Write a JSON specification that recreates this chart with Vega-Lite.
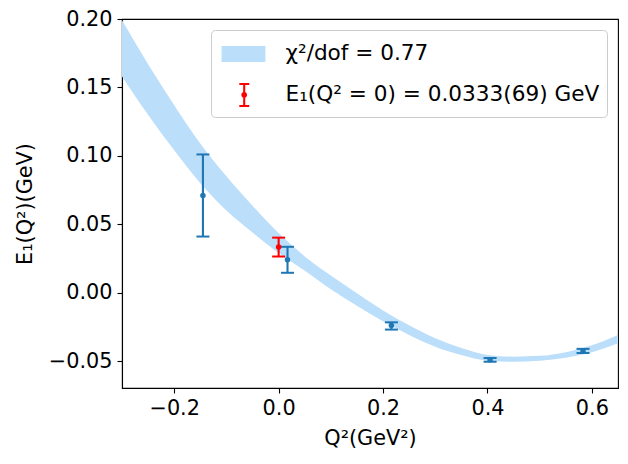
{
  "$schema": "https://vega.github.io/schema/vega-lite/v6.json",
  "width": 496,
  "height": 369,
  "autosize": "none",
  "padding": {"left": 122, "top": 19, "right": 10, "bottom": 76},
  "background": "white",
  "config": {
    "view": {"stroke": "black", "strokeWidth": 1.1},
    "axis": {
      "domainColor": "black", "domainWidth": 1.1, "tickColor": "black", "tickWidth": 1.1,
      "labelColor": "black", "titleColor": "black",
      "labelFont": "DejaVu Sans", "titleFont": "DejaVu Sans",
      "labelFontSize": 20.8, "titleFontSize": 20.8, "titleFontWeight": "normal",
      "tickSize": 5, "labelPadding": 5, "grid": false
    },
    "legend": {
      "orient": "top-right", "offset": 11, "title": null,
      "labelFont": "DejaVu Sans", "labelFontSize": 21.6, "labelColor": "black", "labelLimit": 400,
      "symbolSize": 1024, "rowPadding": 13, "padding": 7,
      "strokeColor": "#cccccc", "fillColor": "white", "cornerRadius": 4, "labelOffset": 33.5,
      "symbolOpacity": 1
    }
  },
  "datasets": {
    "band": [
      {"q2": -0.30, "lo": 0.158, "hi": 0.199, "series": "χ²/dof = 0.77"},
      {"q2": -0.25, "lo": 0.130, "hi": 0.167, "series": "χ²/dof = 0.77"},
      {"q2": -0.20, "lo": 0.104, "hi": 0.137, "series": "χ²/dof = 0.77"},
      {"q2": -0.15, "lo": 0.080, "hi": 0.109, "series": "χ²/dof = 0.77"},
      {"q2": -0.10, "lo": 0.060, "hi": 0.085, "series": "χ²/dof = 0.77"},
      {"q2": -0.05, "lo": 0.044, "hi": 0.0635, "series": "χ²/dof = 0.77"},
      {"q2": 0.00, "lo": 0.029, "hi": 0.0435, "series": "χ²/dof = 0.77"},
      {"q2": 0.05, "lo": 0.016, "hi": 0.0265, "series": "χ²/dof = 0.77"},
      {"q2": 0.10, "lo": 0.0025, "hi": 0.0125, "series": "χ²/dof = 0.77"},
      {"q2": 0.15, "lo": -0.0095, "hi": -0.0005, "series": "χ²/dof = 0.77"},
      {"q2": 0.20, "lo": -0.021, "hi": -0.013, "series": "χ²/dof = 0.77"},
      {"q2": 0.25, "lo": -0.031, "hi": -0.0238, "series": "χ²/dof = 0.77"},
      {"q2": 0.30, "lo": -0.0395, "hi": -0.0333, "series": "χ²/dof = 0.77"},
      {"q2": 0.35, "lo": -0.0456, "hi": -0.0405, "series": "χ²/dof = 0.77"},
      {"q2": 0.40, "lo": -0.0498, "hi": -0.0455, "series": "χ²/dof = 0.77"},
      {"q2": 0.45, "lo": -0.0506, "hi": -0.0468, "series": "χ²/dof = 0.77"},
      {"q2": 0.50, "lo": -0.0498, "hi": -0.0462, "series": "χ²/dof = 0.77"},
      {"q2": 0.55, "lo": -0.0475, "hi": -0.0435, "series": "χ²/dof = 0.77"},
      {"q2": 0.60, "lo": -0.0435, "hi": -0.0385, "series": "χ²/dof = 0.77"},
      {"q2": 0.65, "lo": -0.037, "hi": -0.031, "series": "χ²/dof = 0.77"}
    ],
    "pts": [
      {"q2": -0.145, "e": 0.071, "lo": 0.041, "hi": 0.101},
      {"q2": 0.017, "e": 0.024, "lo": 0.0145, "hi": 0.0335},
      {"q2": 0.216, "e": -0.0241, "lo": -0.027, "hi": -0.0217},
      {"q2": 0.405, "e": -0.049, "lo": -0.0505, "hi": -0.0478},
      {"q2": 0.583, "e": -0.0426, "lo": -0.0441, "hi": -0.0411}
    ],
    "red": [
      {"q2": 0.0, "e": 0.0333, "lo": 0.0264, "hi": 0.0402, "series": "E₁(Q² = 0) = 0.0333(69) GeV"}
    ]
  },
  "encoding": {
    "x": {
      "type": "quantitative",
      "scale": {"domain": [-0.3, 0.65], "nice": false, "zero": false},
      "axis": {"title": "Q²(GeV²)", "values": [-0.2, 0, 0.2, 0.4, 0.6], "format": ".1f", "titlePadding": 11}
    }
  },
  "layer": [
    {
      "data": {"name": "band"},
      "mark": {"type": "area", "interpolate": "monotone", "opacity": 1, "clip": true},
      "encoding": {
        "x": {"field": "q2", "type": "quantitative"},
        "y": {
          "field": "lo", "type": "quantitative",
          "scale": {"domain": [-0.0697, 0.2], "nice": false, "zero": false},
          "axis": {"title": "E₁(Q²)(GeV)", "values": [-0.05, 0, 0.05, 0.1, 0.15, 0.2], "format": ".2f", "titlePadding": 13}
        },
        "y2": {"field": "hi"},
        "color": {
          "field": "series", "type": "nominal",
          "scale": {"domain": ["χ²/dof = 0.77", "E₁(Q² = 0) = 0.0333(69) GeV"], "range": ["#bbdefb", "#ff0000"]},
          "legend": {"title": null}
        }
      }
    },
    {
      "data": {"name": "pts"},
      "mark": {"type": "rule", "color": "#1f77b4", "strokeWidth": 2.1},
      "encoding": {
        "x": {"field": "q2", "type": "quantitative"},
        "y": {"field": "lo", "type": "quantitative"},
        "y2": {"field": "hi"}
      }
    },
    {
      "data": {"name": "pts"},
      "mark": {"type": "tick", "orient": "horizontal", "color": "#1f77b4", "size": 13, "thickness": 2, "opacity": 1},
      "encoding": {
        "x": {"field": "q2", "type": "quantitative"},
        "y": {"field": "lo", "type": "quantitative"}
      }
    },
    {
      "data": {"name": "pts"},
      "mark": {"type": "tick", "orient": "horizontal", "color": "#1f77b4", "size": 13, "thickness": 2, "opacity": 1},
      "encoding": {
        "x": {"field": "q2", "type": "quantitative"},
        "y": {"field": "hi", "type": "quantitative"}
      }
    },
    {
      "data": {"name": "pts"},
      "mark": {"type": "point", "filled": true, "color": "#1f77b4", "size": 30, "opacity": 1},
      "encoding": {
        "x": {"field": "q2", "type": "quantitative"},
        "y": {"field": "e", "type": "quantitative"}
      }
    },
    {
      "data": {"name": "red"},
      "mark": {"type": "rule", "color": "#ff0000", "strokeWidth": 2.1},
      "encoding": {
        "x": {"field": "q2", "type": "quantitative"},
        "y": {"field": "lo", "type": "quantitative"},
        "y2": {"field": "hi"}
      }
    },
    {
      "data": {"name": "red"},
      "mark": {"type": "tick", "orient": "horizontal", "color": "#ff0000", "size": 13, "thickness": 2, "opacity": 1},
      "encoding": {
        "x": {"field": "q2", "type": "quantitative"},
        "y": {"field": "lo", "type": "quantitative"}
      }
    },
    {
      "data": {"name": "red"},
      "mark": {"type": "tick", "orient": "horizontal", "color": "#ff0000", "size": 13, "thickness": 2, "opacity": 1},
      "encoding": {
        "x": {"field": "q2", "type": "quantitative"},
        "y": {"field": "hi", "type": "quantitative"}
      }
    },
    {
      "data": {"name": "red"},
      "mark": {"type": "point", "filled": true, "color": "#ff0000", "size": 30, "opacity": 1},
      "encoding": {
        "x": {"field": "q2", "type": "quantitative"},
        "y": {"field": "e", "type": "quantitative"}
      }
    },
    {
      "data": {"name": "red"},
      "mark": {"type": "point", "filled": true, "size": 0, "opacity": 1},
      "encoding": {
        "x": {"field": "q2", "type": "quantitative"},
        "y": {"field": "e", "type": "quantitative"},
        "color": {"field": "series", "type": "nominal", "legend": {"title": null}},
        "shape": {
          "field": "series", "type": "nominal",
          "scale": {
            "domain": ["χ²/dof = 0.77", "E₁(Q² = 0) = 0.0333(69) GeV"],
            "range": [
              "M-0.84,-0.5H1.9V0.5H-0.84Z",
              "M0.51,-0.75H0.64V0.75H0.51Z M0.27,-0.75H0.89V-0.62H0.27Z M0.27,0.62H0.89V0.75H0.27Z M0.395,0A0.18,0.18 0 1,1 0.755,0A0.18,0.18 0 1,1 0.395,0Z"
            ]
          },
          "legend": {"title": null}
        }
      }
    }
  ]
}
